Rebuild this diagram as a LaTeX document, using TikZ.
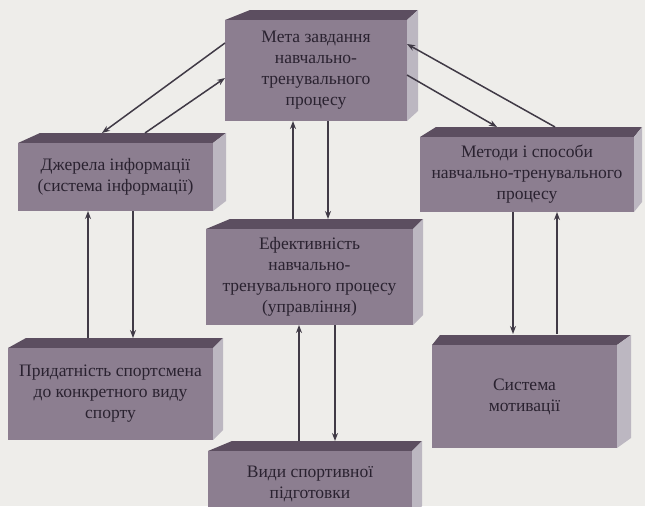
\documentclass[tikz,border=0pt]{standalone}
\usepackage{fontspec}
\setmainfont{Liberation Serif}
\usetikzlibrary{arrows.meta}
\definecolor{bgc}{RGB}{238,237,234}
\definecolor{frontc}{RGB}{140,126,144}
\definecolor{topc}{RGB}{92,78,96}
\definecolor{sidec}{RGB}{188,183,193}
\definecolor{txtc}{RGB}{42,34,48}
\definecolor{arrc}{RGB}{64,58,70}
\tikzset{
  frontface/.style={fill=frontc, inner sep=0pt, outer sep=0pt, align=center,
    text=txtc, font=\fontsize{17.5}{21}\selectfont},
  topface/.style={fill=topc},
  sideface/.style={fill=sidec},
  arr/.style={draw=arrc, line width=1.5pt, -{Stealth[length=8pt,width=6pt]}}
}
% name, x1, y1, x2, y2, a, b, text
\newcommand\mycuboid[8]{%
  \fill[topface] (#2,#3) -- ({#2+#6},{#3-10}) -- ({#4+#7},{#3-10}) -- (#4,#3) -- cycle;
  \fill[sideface] (#4,#3) -- ({#4+#7},{#3-10}) -- ({#4+#7},{#5-10}) -- (#4,#5) -- cycle;
  \node[frontface, minimum width={(#4-#2)*1pt}, minimum height={(#5-#3)*1pt}]
    (#1) at ({(#2+#4)/2},{(#3+#5)/2}) {#8};%
}
\begin{document}
\begin{tikzpicture}[x=1pt,y=-1pt]
\useasboundingbox (0,0) rectangle (645,506);
\fill[bgc] (0,0) rectangle (645,506);
\clip (0,0) rectangle (645,506);

\mycuboid{meta}{225}{20}{407}{121}{25}{11}{Мета завдання\\навчально-\\тренувального\\процесу}
\mycuboid{dzh}{18}{143}{213}{211}{22}{13}{Джерела інформації\\(система інформації)}
\mycuboid{metody}{420}{137}{634}{212}{16}{8}{Методи і способи\\навчально-тренувального\\процесу}
\mycuboid{efekt}{206}{229}{413}{325}{24}{10}{Ефективність\\навчально-\\тренувального процесу\\(управління)}
\mycuboid{prydat}{8}{348}{213}{440}{18}{10}{Придатність спортсмена\\до конкретного виду\\спорту}
\mycuboid{systema}{432}{345}{617}{448}{8}{14}{Система\\мотивації}
\mycuboid{vydy}{208}{451}{412}{516}{24}{10}{Види спортивної\\підготовки}

\draw[arr] ([yshift=-23pt]meta.north west) -- ([xshift=84pt,yshift=10pt]dzh.north west);
\draw[arr] ([xshift=127pt,yshift=10pt]dzh.north west) -- ([yshift=-58pt]meta.north west);
\draw[arr] ([xshift=135pt,yshift=10pt]metody.north west) -- ([yshift=-24pt]meta.north east);
\draw[arr] ([yshift=-55pt]meta.north east) -- ([xshift=77pt,yshift=10pt]metody.north west);
\draw[arr] ([xshift=80pt,yshift=10pt]prydat.north west) -- ([xshift=70pt]dzh.south west);
\draw[arr] ([xshift=115pt]dzh.south west) -- ([xshift=125pt,yshift=10pt]prydat.north west);
\draw[arr] ([xshift=93pt]metody.south west) -- ([xshift=81pt,yshift=11pt]systema.north west);
\draw[arr] ([xshift=125pt,yshift=11pt]systema.north west) -- ([xshift=137pt]metody.south west);
\draw[arr] ([xshift=87pt,yshift=10pt]efekt.north west) -- ([xshift=68pt]meta.south west);
\draw[arr] ([xshift=103pt]meta.south west) -- ([xshift=122pt,yshift=10pt]efekt.north west);
\draw[arr] ([xshift=91pt,yshift=10pt]vydy.north west) -- ([xshift=93pt]efekt.south west);
\draw[arr] ([xshift=129pt]efekt.south west) -- ([xshift=127pt,yshift=10pt]vydy.north west);
\end{tikzpicture}
\end{document}
